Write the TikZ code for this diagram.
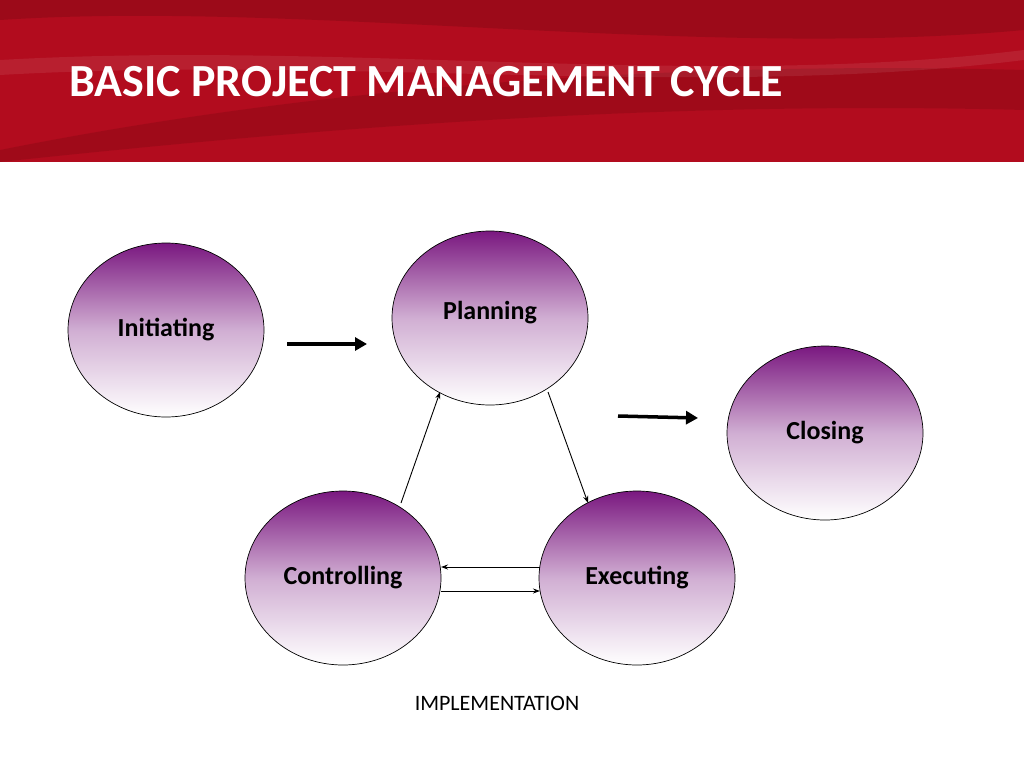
\documentclass[tikz,border=0pt]{standalone}
\usepackage{fontspec}
\setmainfont{Carlito}
\usetikzlibrary{shapes.geometric,arrows.meta}
\definecolor{hred}{HTML}{B20C1E}
\definecolor{dred}{HTML}{8E0A16}
\definecolor{purp}{HTML}{7A1880}
\begin{document}
\begin{tikzpicture}[x=1pt,y=-1pt,
  circ/.style={ellipse,draw=black,line width=0.7pt,minimum width=196pt,minimum height=174pt,top color=purp,bottom color=white,middle color=purp!35!white,font=\bfseries\fontsize{26}{30}\selectfont},
  thick arr/.style={line width=3.5pt,-{Triangle[length=12pt,width=13pt]}},
  thin arr/.style={line width=0.9pt,-{Stealth[length=7pt,width=5pt]}}]
\useasboundingbox (0,0) rectangle (1024,768);
\fill[white] (0,0) rectangle (1024,768);
\fill[hred] (0,0) rectangle (1024,162);
\fill[dred,opacity=0.6] (0,20) .. controls (300,0) and (700,60) .. (1024,30) -- (1024,0) -- (0,0) -- cycle;
\fill[dred,opacity=0.5] (0,150) .. controls (300,90) and (650,60) .. (1024,70) -- (1024,110) .. controls (650,100) and (300,130) .. (0,162) -- cycle;
\fill[white,opacity=0.08] (0,60) .. controls (350,40) and (700,90) .. (1024,50) -- (1024,60) .. controls (700,100) and (350,55) .. (0,75) -- cycle;
\node[anchor=west,text=white,font=\bfseries\fontsize{46}{52}\selectfont] (title) at (66,82) {BASIC PROJECT MANAGEMENT CYCLE};
\node[circ] (ini) at (166,330) {Initiating};
\node[circ] (pla) at (490,318) {\raisebox{16pt}{Planning}};
\node[circ] (clo) at (825,433) {Closing};
\node[circ] (con) at (343,578) {Controlling};
\node[circ] (exe) at (637,578) {Executing};
\coordinate (a1) at (287,344); \coordinate (a2) at (367,344);
\coordinate (b1) at (618,416); \coordinate (b2) at (698,418);
\coordinate (c1) at (401,503); \coordinate (c2) at (440,392);
\coordinate (d1) at (548,392); \coordinate (d2) at (588,503);
\coordinate (e1) at (540,567); \coordinate (e2) at (441,567);
\coordinate (f1) at (441,591); \coordinate (f2) at (540,591);
\draw[thick arr] (a1) -- (a2);
\draw[thick arr] (b1) -- (b2);
\draw[thin arr] (c1) -- (c2);
\draw[thin arr] (d1) -- (d2);
\draw[thin arr] (e1) -- (e2);
\draw[thin arr] (f1) -- (f2);
\node[font=\fontsize{22}{26}\selectfont] (impl) at (497,703) {IMPLEMENTATION};
\end{tikzpicture}
\end{document}
